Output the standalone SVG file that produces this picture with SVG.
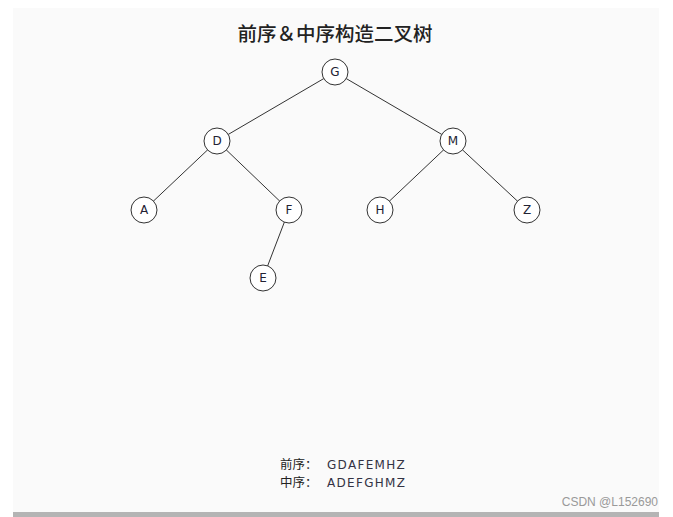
<svg xmlns="http://www.w3.org/2000/svg" width="673" height="517" viewBox="0 0 673 517">
<style>
.node circle{fill:#ffffff;stroke:#333333;stroke-width:1}
.node text{font-family:"DejaVu Sans","Liberation Sans",sans-serif;font-size:12px;fill:#222233;text-anchor:middle;dominant-baseline:central}
.edges line{stroke:#333333;stroke-width:1}
.t{font-family:"Noto Sans CJK SC","DejaVu Sans",sans-serif;fill:#222222}
.seq{font-family:"DejaVu Sans","Liberation Sans",sans-serif;font-size:12px;letter-spacing:1.3px;fill:#333344}
</style>
<rect x="0" y="0" width="673" height="517" fill="#ffffff"/>
<rect x="13" y="8" width="646" height="505" fill="#fafafa"/>
<rect x="13" y="512" width="646" height="5" fill="#b4b4b4"/>
<text class="t" x="335" y="41" font-size="19.5" font-weight="500" text-anchor="middle">前序＆中序构造二叉树</text>
<g class="edges">
<line x1="335" y1="72" x2="217" y2="141"/>
<line x1="335" y1="72" x2="453" y2="141"/>
<line x1="217" y1="141" x2="144" y2="210"/>
<line x1="217" y1="141" x2="289" y2="210"/>
<line x1="453" y1="141" x2="380" y2="210"/>
<line x1="453" y1="141" x2="527" y2="210"/>
<line x1="289" y1="210" x2="263" y2="278"/>
</g>
<g id="node-G" class="node"><circle cx="335" cy="72" r="13"/><text x="335" y="72">G</text></g>
<g id="node-D" class="node"><circle cx="217" cy="141" r="13"/><text x="217" y="141">D</text></g>
<g id="node-M" class="node"><circle cx="453" cy="141" r="13"/><text x="453" y="141">M</text></g>
<g id="node-A" class="node"><circle cx="144" cy="210" r="13"/><text x="144" y="210">A</text></g>
<g id="node-F" class="node"><circle cx="289" cy="210" r="13"/><text x="289" y="210">F</text></g>
<g id="node-H" class="node"><circle cx="380" cy="210" r="13"/><text x="380" y="210">H</text></g>
<g id="node-Z" class="node"><circle cx="527" cy="210" r="13"/><text x="527" y="210">Z</text></g>
<g id="node-E" class="node"><circle cx="263" cy="278" r="13"/><text x="263" y="278">E</text></g>
<text class="t" x="280" y="469" font-size="12.5">前序：</text>
<text class="seq" x="327" y="469">GDAFEMHZ</text>
<text class="t" x="280" y="487" font-size="12.5">中序：</text>
<text class="seq" x="327" y="487">ADEFGHMZ</text>
<text x="658" y="506" font-family="Liberation Sans, sans-serif" font-size="12" fill="#999999" text-anchor="end">CSDN @L152690</text>
</svg>
